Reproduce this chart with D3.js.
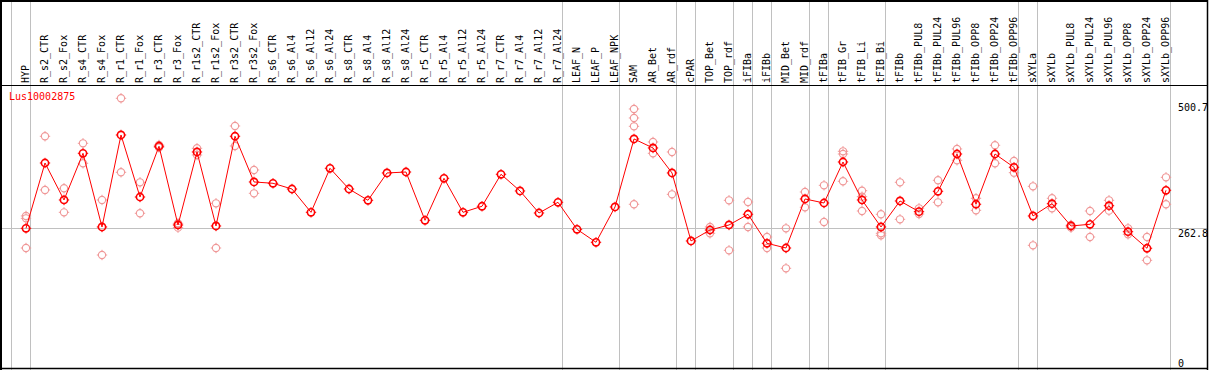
<!DOCTYPE html>
<html>
<head>
<meta charset="utf-8">
<script src="https://cdn.jsdelivr.net/npm/d3@7"></script>
<style>
  html, body { margin: 0; padding: 0; background: #fff; }
  svg { display: block; }
  text { font-family: "DejaVu Sans Mono", monospace; font-size: 10px; }
</style>
</head>
<body>
<svg id="chart" width="1209" height="370"></svg>
<script>
// ---- data ----
const categories = ["HYP","R_s2_CTR","R_s2_Fox","R_s4_CTR","R_s4_Fox","R_r1_CTR","R_r1_Fox","R_r3_CTR","R_r3_Fox",
  "R_r1s2_CTR","R_r1s2_Fox","R_r3s2_CTR","R_r3s2_Fox","R_s6_CTR","R_s6_Al4","R_s6_Al12","R_s6_Al24",
  "R_s8_CTR","R_s8_Al4","R_s8_Al12","R_s8_Al24","R_r5_CTR","R_r5_Al4","R_r5_Al12","R_r5_Al24",
  "R_r7_CTR","R_r7_Al4","R_r7_Al12","R_r7_Al24","LEAF_N","LEAF_P","LEAF_NPK","SAM","AR_Bet","AR_rdf",
  "cPAR","TOP_Bet","TOP_rdf","iFIBa","iFIBb","MID_Bet","MID_rdf","tFIBa","tFIB_Gr","tFIB_Li","tFIB_Bi",
  "tFIBb","tFIBb_PUL8","tFIBb_PUL24","tFIBb_PUL96","tFIBb_OPP8","tFIBb_OPP24","tFIBb_OPP96",
  "sXYLa","sXYLb","sXYLb_PUL8","sXYLb_PUL24","sXYLb_PUL96","sXYLb_OPP8","sXYLb_OPP24","sXYLb_OPP96"];

const meanValues = [262.8,386.1,316.3,404.4,265.3,439.0,321.9,417.7,269.1,
  406.9,267.2,436.6,350.3,347.8,337.0,293.0,376.1,
  337.0,315.7,367.3,369.1,277.9,357.2,293.0,304.4,
  364.8,333.3,291.7,311.9,260.9,236.4,303.1,431.5,414.5,367.3,
  238.9,259.6,269.1,289.3,234.5,225.6,318.2,310.6,388.0,316.3,265.3,
  314.4,294.2,332.7,403.1,308.2,403.1,378.0,
  286.1,309.3,267.2,270.4,305.5,256.4,225.1,334.6];

const replicateValues = [
  [286.1,281.7,225.6],[436.6,335.2],[338.4,293.0],[423.3,385.6],[316.3,212.4],[508.3,368.6],[349.7,291.2],[420.1,415.4],[272.3,264.0],
  [413.9,401.2],[310.0,225.6],[456.0,418.2],[372.9,328.9],[],[],[],[],
  [],[],[],[],[],[],[],[],
  [],[],[],[],[],[],[],[488.1,471.1,455.4,308.2],[425.8,404.4],[406.9,327.0],
  [],[265.3,253.4],[315.7,221.3],[312.5,265.3],[246.4,225.6],[262.8,187.3],[331.4,302.5],[344.0,274.7],[408.2,403.1,351.6],[333.8,322.5,295.5],[289.3,253.4,249.6],
  [349.7,279.8],[300.6,289.8],[353.5,311.9],[412.6,391.2],[319.5,296.8],[419.6,385.6],[389.9,367.8],
  [342.1,230.7],[319.5,300.6],[269.1,264.0],[295.5,246.4],[315.7,296.1],[262.8,251.5],[246.4,202.4],[359.1,308.2]];

// group separators: index of category after which a line is drawn (-1 = before first)
const groupBreaks = [-1, 0, 28, 31, 34, 35, 37, 38, 39, 41, 42, 45, 52, 53, 60];
const tickValues = [500.7, 262.8, 0];
const tickLabels = ["500.7", "262.8", "0"];
const geneLabel = "Lus10002875";

// ---- chart ----
const W = 1209, H = 370;
const svg = d3.select("#chart");

const x = d3.scalePoint().domain(categories).range([26, 26 + 19 * (categories.length - 1)]);
const y = d3.scaleLinear().domain([0, 500.7]).range([367.5, 102.3]);

// group separator lines
svg.append("g").selectAll("line").data(groupBreaks).join("line")
  .attr("x1", d => (d < 0 ? x(categories[0]) - 15 : x(categories[d]) + 4) + 0.5)
  .attr("x2", d => (d < 0 ? x(categories[0]) - 15 : x(categories[d]) + 4) + 0.5)
  .attr("y1", 0).attr("y2", H)
  .attr("stroke", "#c0c0c0").attr("stroke-width", 1);

// horizontal reference line at 262.8
svg.append("line")
  .attr("x1", 2).attr("x2", 1207)
  .attr("y1", Math.round(y(262.8)) + 0.5).attr("y2", Math.round(y(262.8)) + 0.5)
  .attr("stroke", "#c0c0c0").attr("stroke-width", 1);

// frame
svg.append("line").attr("x1", 1).attr("x2", 1).attr("y1", 0).attr("y2", H).attr("stroke", "#000").attr("stroke-width", 2);
svg.append("line").attr("x1", 0).attr("x2", 1208).attr("y1", 1).attr("y2", 1).attr("stroke", "#000").attr("stroke-width", 2);
svg.append("line").attr("x1", 1207.5).attr("x2", 1207.5).attr("y1", 0).attr("y2", H).attr("stroke", "#000").attr("stroke-width", 1.5);
svg.append("line").attr("x1", 0).attr("x2", 1208).attr("y1", 368.5).attr("y2", 368.5).attr("stroke", "#000").attr("stroke-width", 1.5);
svg.append("line").attr("x1", 0).attr("x2", 1208).attr("y1", 85.5).attr("y2", 85.5).attr("stroke", "#000").attr("stroke-width", 1);

// category labels (vertical)
svg.append("g").selectAll("text").data(categories).join("text")
  .attr("transform", d => `translate(${x(d) + 3},83) rotate(-90)`)
  .attr("text-anchor", "start")
  .attr("fill", "#000")
  .text(d => d);

// right-side value labels
svg.append("g").selectAll("text").data(tickValues).join("text")
  .attr("x", 1178)
  .attr("y", (d, i) => Math.min(y(d) + 8.7, 366.5))
  .attr("fill", "#000")
  .text((d, i) => tickLabels[i]);

// gene label
svg.append("text").attr("x", 9).attr("y", 100).attr("fill", "#ff0000").text(geneLabel);

// marker helper: circle with small compass ticks
function marker(g, cx, cy, color, sw) {
  g.append("circle").attr("cx", cx).attr("cy", cy).attr("r", 3.6)
    .attr("fill", "none").attr("stroke", color).attr("stroke-width", sw);
  const t = [[0, -1], [0, 1], [-1, 0], [1, 0]];
  t.forEach(([dx, dy]) => {
    g.append("line")
      .attr("x1", cx + dx * 3.6).attr("y1", cy + dy * 3.6)
      .attr("x2", cx + dx * 5.2).attr("y2", cy + dy * 5.2)
      .attr("stroke", color).attr("stroke-width", 1);
  });
}

// replicate points
const repG = svg.append("g");
categories.forEach((c, i) => {
  replicateValues[i].forEach(v => marker(repG, x(c), y(v), "#f09898", 1.1));
});

// mean line
const line = d3.line().x((d, i) => x(categories[i])).y(d => y(d));
svg.append("path").datum(meanValues)
  .attr("d", line).attr("fill", "none").attr("stroke", "#ff0000").attr("stroke-width", 1);

// mean points
const meanG = svg.append("g");
categories.forEach((c, i) => marker(meanG, x(c), y(meanValues[i]), "#ff0000", 1.6));
</script>
</body>
</html>
